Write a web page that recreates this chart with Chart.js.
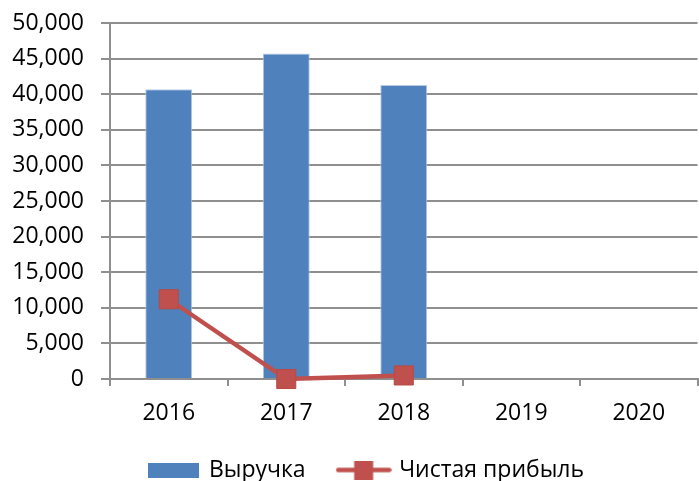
<!DOCTYPE html>
<html>
<head>
<meta charset="utf-8">
<script src="https://cdn.jsdelivr.net/npm/chart.js@4/dist/chart.umd.min.js"></script>
<style>
  html, body { margin: 0; padding: 0; background: #fff; }
  #wrap { width: 699px; height: 481px; }
</style>
</head>
<body>
<div id="wrap"><canvas id="chart"></canvas></div>
<script>
// Chart data
const years = ['2016', '2017', '2018', '2019', '2020'];
const revenue = [40700, 45700, 41300, null, null];
const netProfit = [11200, 0, 500, null, null];
const seriesNames = ['Выручка', 'Чистая прибыль'];

const blue = '#4F81BD';
const red = '#C0504D';
const gridColor = '#8f8f8f';

// legend swatches
function barSwatch() {
    const c = document.createElement('canvas');
    c.width = 51; c.height = 15;
    const ctx = c.getContext('2d');
    ctx.fillStyle = blue;
    ctx.fillRect(0, 0, 51, 15);
    return c;
}

function lineSwatch() {
    const c = document.createElement('canvas');
    c.width = 56; c.height = 19;
    const ctx = c.getContext('2d');
    ctx.strokeStyle = red;
    ctx.lineWidth = 4.5;
    ctx.lineCap = 'round';
    ctx.beginPath();
    ctx.moveTo(2.5, 9.5);
    ctx.lineTo(53.5, 9.5);
    ctx.stroke();
    ctx.fillStyle = red;
    ctx.fillRect(18.5, 0, 19, 19);
    return c;
}

// nudge the legend a little to the right, like the original
const legendShift = {
    id: 'legendShift',
    afterLayout(chart) {
        chart.legend.left += 12;
        chart.legend.right += 12;
    }
};

Chart.defaults.font.family = '"Open Sans", "DejaVu Sans", sans-serif';
Chart.defaults.font.size = 23;
Chart.defaults.color = '#000';

new Chart(document.getElementById('chart'), {
    type: 'bar',
    data: {
        labels: years,
        datasets: [{
            type: 'line',
            label: seriesNames[1],
            data: netProfit,
            borderColor: red,
            backgroundColor: red,
            borderWidth: 4.5,
            pointStyle: 'rect',
            pointRadius: 13.5,
            pointHoverRadius: 13.5,
            pointBackgroundColor: red,
            pointBorderColor: '#b64a47',
            pointBorderWidth: 1,
            spanGaps: false,
            clip: false,
            order: 0
        }, {
            label: seriesNames[0],
            data: revenue,
            backgroundColor: blue,
            borderColor: '#b9cde5',
            borderWidth: 1,
            barPercentage: 0.4,
            categoryPercentage: 1.0,
            order: 1
        }]
    },
    options: {
        responsive: true,
        maintainAspectRatio: false,
        animation: false,
        layout: {
            autoPadding: false,
            padding: { left: 12, right: 1.5, top: 23, bottom: -10.5 }
        },
        scales: {
            x: {
                offset: true,
                grid: {
                    offset: true,
                    drawOnChartArea: false,
                    color: gridColor,
                    lineWidth: 2,
                    tickLength: 7
                },
                border: { color: gridColor, width: 2 },
                ticks: { padding: 14 },
                afterFit(scale) { scale.height = 45.5; }
            },
            y: {
                min: 0,
                max: 50000,
                ticks: {
                    stepSize: 5000,
                    padding: 17,
                    callback: v => v.toLocaleString('en-US')
                },
                grid: {
                    color: gridColor,
                    lineWidth: 2,
                    tickLength: 9
                },
                border: { color: gridColor, width: 2 },
                afterFit(scale) {
                    scale.width = 98;
                    scale.paddingTop = 0;
                    scale.paddingBottom = 0;
                }
            }
        },
        plugins: {
            tooltip: { enabled: false },
            legend: {
                position: 'bottom',
                reverse: true,
                labels: {
                    usePointStyle: true,
                    pointStyleWidth: 48,
                    boxHeight: 19,
                    padding: 34,
                    generateLabels(chart) {
                        const items = Chart.defaults.plugins.legend.labels.generateLabels(chart);
                        items.forEach(item => {
                            item.pointStyle = item.datasetIndex === 0 ? lineSwatch() : barSwatch();
                        });
                        return items;
                    }
                }
            }
        }
    },
    plugins: [legendShift]
});
</script>
</body>
</html>
